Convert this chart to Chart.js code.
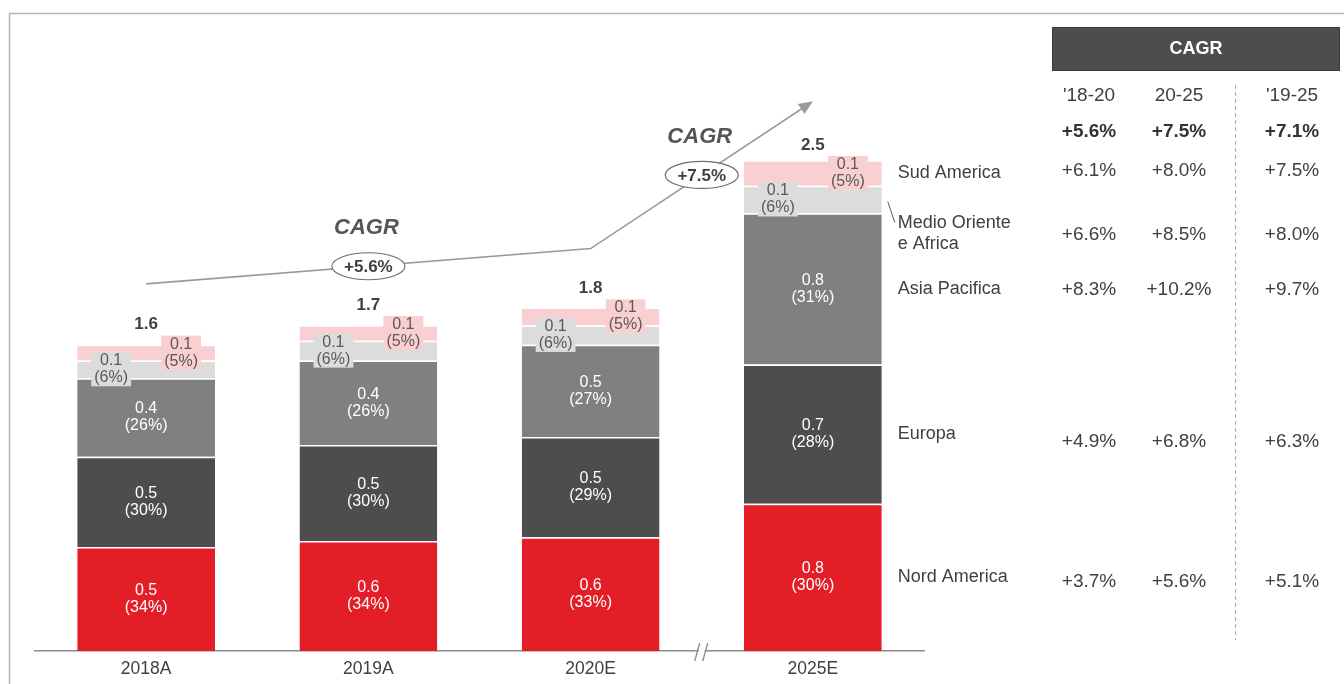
<!DOCTYPE html>
<html><head><meta charset="utf-8">
<script src="https://cdn.jsdelivr.net/npm/chart.js@4.4.0/dist/chart.umd.min.js"></script>
<style>html,body{margin:0;padding:0;background:#fff;}#wrap{width:1344px;height:684px;}</style>
</head><body><div id="wrap"><canvas id="c" width="1344" height="684"></canvas></div>
<script>
const categories = ['2018A', '2019A', '2020E', '2025E'];
const regionNames = ['Nord America', 'Europa', 'Asia Pacifica', 'Medio Oriente e Africa', 'Sud America'];
const nordAmerica = [0.53, 0.56, 0.58, 0.75];
const europa = [0.46, 0.49, 0.51, 0.71];
const asiaPacifica = [0.40, 0.43, 0.47, 0.77];
const medioOriente = [0.09, 0.10, 0.10, 0.14];
const sudAmerica = [0.08, 0.08, 0.09, 0.13];
const pctNordAmerica = [34, 34, 33, 30];
const pctEuropa = [30, 30, 29, 28];
const pctAsiaPacifica = [26, 26, 27, 31];
const pctMedioOriente = [6, 6, 6, 6];
const pctSudAmerica = [5, 5, 5, 5];
const cagrPeriods = ["'18-20", '20-25', "'19-25"];
const cagrTotal = ['+5.6%', '+7.5%', '+7.1%'];
const cagrSudAmerica = ['+6.1%', '+8.0%', '+7.5%'];
const cagrMedioOriente = ['+6.6%', '+8.5%', '+8.0%'];
const cagrAsiaPacifica = ['+8.3%', '+10.2%', '+9.7%'];
const cagrEuropa = ['+4.9%', '+6.8%', '+6.3%'];
const cagrNordAmerica = ['+3.7%', '+5.6%', '+5.1%'];
const arrowCategories = ['2018A', '2020E', '2025E'];
const arrowLevels = [1.87, 2.05, 2.80];
const arrowCagr = ['+5.6%', '+7.5%'];

const FONT = '"Liberation Sans", Arial, sans-serif';
const colors = ['#E41E26', '#4D4D4D', '#808080', '#DCDCDC', '#F9CFD1'];
const seriesValues = [nordAmerica, europa, asiaPacifica, medioOriente, sudAmerica];
const seriesPct = [pctNordAmerica, pctEuropa, pctAsiaPacifica, pctMedioOriente, pctSudAmerica];

function fmt(v) { return (Math.round(v * 10 + 1e-9) / 10).toFixed(1); }

const overlay = {
  id: 'overlay',
  afterDatasetsDraw(chart) {
    const ctx = chart.ctx;
    ctx.save();
    ctx.textAlign = 'center';
    ctx.textBaseline = 'middle';
    for (let d = 0; d < 5; d++) {
      const meta = chart.getDatasetMeta(d);
      meta.data.forEach((bar, i) => {
        const p = bar.getProps(['x', 'y', 'base'], true);
        const cy = (p.y + p.base) / 2;
        const v = fmt(seriesValues[d][i]);
        const pc = '(' + seriesPct[d][i] + '%)';
        ctx.font = '16px ' + FONT;
        if (d < 3) {
          ctx.fillStyle = '#FFFFFF';
          ctx.fillText(v, p.x, cy - 8.5);
          ctx.fillText(pc, p.x, cy + 8.5);
        } else {
          const lx = p.x + (d === 3 ? -35 : 35);
          const w = Math.max(ctx.measureText(v).width, ctx.measureText(pc).width) + 6;
          ctx.fillStyle = colors[d];
          ctx.fillRect(lx - w / 2, cy - 17, w, 34);
          ctx.fillStyle = '#595959';
          ctx.fillText(v, lx, cy - 8.5);
          ctx.fillText(pc, lx, cy + 8.5);
        }
      });
    }
    const topMeta = chart.getDatasetMeta(4);
    topMeta.data.forEach((bar, i) => {
      const p = bar.getProps(['x', 'y', 'base'], true);
      const cy = (p.y + p.base) / 2;
      let tot = 0;
      for (let d = 0; d < 5; d++) tot += seriesValues[d][i];
      ctx.font = 'bold 17px ' + FONT;
      ctx.fillStyle = '#404040';
      ctx.fillText(fmt(tot), p.x, cy - 28);
    });
    ctx.restore();
  },
  afterDraw(chart) {
    const ctx = chart.ctx;
    const xs = chart.scales.x, ys = chart.scales.y;
    ctx.save();
    ctx.strokeStyle = '#B4B4B4';
    ctx.lineWidth = 1.5;
    ctx.beginPath();
    ctx.moveTo(9.5, 684); ctx.lineTo(9.5, 13.5); ctx.lineTo(1344, 13.5);
    ctx.stroke();

    const bx = (xs.getPixelForValue(2) + xs.getPixelForValue(3)) / 2;
    const by = chart.chartArea.bottom;
    ctx.fillStyle = '#fff';
    ctx.fillRect(bx - 3, by - 3, 6, 6);
    ctx.strokeStyle = '#8C8C8C';
    ctx.lineWidth = 1.3;
    ctx.beginPath();
    ctx.moveTo(bx - 7, by + 10); ctx.lineTo(bx - 2, by - 8);
    ctx.moveTo(bx + 1, by + 10); ctx.lineTo(bx + 6, by - 8);
    ctx.stroke();

    const pts = arrowCategories.map((c, k) => ({
      x: xs.getPixelForValue(categories.indexOf(c)),
      y: ys.getPixelForValue(arrowLevels[k])
    }));
    ctx.strokeStyle = '#9A9A9A';
    ctx.fillStyle = '#9A9A9A';
    ctx.lineWidth = 1.6;
    const last = pts[pts.length - 1], prev = pts[pts.length - 2];
    const ang = Math.atan2(last.y - prev.y, last.x - prev.x);
    const tipBack = 12;
    ctx.beginPath();
    ctx.moveTo(pts[0].x, pts[0].y);
    ctx.lineTo(pts[1].x, pts[1].y);
    ctx.lineTo(last.x - tipBack * Math.cos(ang), last.y - tipBack * Math.sin(ang));
    ctx.stroke();
    ctx.beginPath();
    ctx.moveTo(last.x, last.y);
    ctx.lineTo(last.x - 14 * Math.cos(ang) + 6 * Math.sin(ang), last.y - 14 * Math.sin(ang) - 6 * Math.cos(ang));
    ctx.lineTo(last.x - 14 * Math.cos(ang) - 6 * Math.sin(ang), last.y - 14 * Math.sin(ang) + 6 * Math.cos(ang));
    ctx.closePath();
    ctx.fill();
    for (let k = 0; k < 2; k++) {
      const mx = (pts[k].x + pts[k + 1].x) / 2;
      const my = (pts[k].y + pts[k + 1].y) / 2;
      ctx.beginPath();
      ctx.ellipse(mx, my, 36.5, 13.5, 0, 0, Math.PI * 2);
      ctx.fillStyle = '#fff';
      ctx.fill();
      ctx.strokeStyle = '#6E6E6E';
      ctx.lineWidth = 1.2;
      ctx.stroke();
      ctx.textAlign = 'center';
      ctx.textBaseline = 'middle';
      ctx.fillStyle = '#404040';
      ctx.font = 'bold 17px ' + FONT;
      ctx.fillText(arrowCagr[k], mx, my + 1);
      ctx.fillStyle = '#555555';
      ctx.font = 'italic bold 22px ' + FONT;
      ctx.fillText('CAGR', mx - 2, my - 38);
    }

    const li = 3;
    const cyOf = d => {
      const p = chart.getDatasetMeta(d).data[li].getProps(['x', 'y', 'base', 'width'], true);
      return { cy: (p.y + p.base) / 2, right: p.x + p.width / 2 };
    };
    ctx.textAlign = 'left';
    ctx.fillStyle = '#404040';
    ctx.font = '18px ' + FONT;
    const lx = cyOf(0).right + 16;
    [0, 1, 2, 4].forEach(d => {
      ctx.fillText(regionNames[d], lx, cyOf(d).cy);
    });
    const mea = cyOf(3);
    ctx.fillText('Medio Oriente', lx, mea.cy + 24);
    ctx.fillText('e Africa', lx, mea.cy + 45);
    ctx.strokeStyle = '#595959';
    ctx.lineWidth = 1;
    ctx.beginPath();
    ctx.moveTo(mea.right + 6, mea.cy + 2);
    ctx.lineTo(mea.right + 13, mea.cy + 23);
    ctx.stroke();

    ctx.fillStyle = '#4D4D4D';
    ctx.fillRect(1052, 27, 288, 44);
    ctx.strokeStyle = '#3A3A3A';
    ctx.lineWidth = 1;
    ctx.strokeRect(1052.5, 27.5, 287, 43);
    ctx.fillStyle = '#FFFFFF';
    ctx.textAlign = 'center';
    ctx.font = 'bold 18px ' + FONT;
    ctx.fillText('CAGR', 1196, 49);
    const colX = [1089, 1179, 1292];
    ctx.font = '19px ' + FONT;
    ctx.fillStyle = '#404040';
    cagrPeriods.forEach((t, k) => ctx.fillText(t, colX[k], 96));
    ctx.font = 'bold 19px ' + FONT;
    ctx.fillStyle = '#333333';
    cagrTotal.forEach((t, k) => ctx.fillText(t, colX[k], 132));
    ctx.font = '19px ' + FONT;
    ctx.fillStyle = '#404040';
    const rows = [[cagrSudAmerica, 171], [cagrMedioOriente, 235], [cagrAsiaPacifica, 290], [cagrEuropa, 442], [cagrNordAmerica, 582]];
    rows.forEach(([arr, y]) => arr.forEach((t, k) => ctx.fillText(t, colX[k], y)));
    ctx.strokeStyle = '#AAAAAA';
    ctx.lineWidth = 1;
    ctx.setLineDash([4, 3]);
    ctx.beginPath();
    ctx.moveTo(1235.5, 85); ctx.lineTo(1235.5, 640);
    ctx.stroke();
    ctx.setLineDash([]);
    ctx.restore();
  }
};

new Chart(document.getElementById('c'), {
  type: 'bar',
  data: {
    labels: categories,
    datasets: seriesValues.map((vals, d) => ({
      label: regionNames[d],
      data: vals,
      backgroundColor: colors[d],
      borderColor: '#FFFFFF',
      borderWidth: { top: 1.5, right: 0, bottom: 0, left: 0 },
      borderSkipped: false,
      barPercentage: 0.62,
      categoryPercentage: 1
    }))
  },
  options: {
    responsive: false,
    animation: false,
    devicePixelRatio: 1,
    layout: { padding: { left: 35, right: 420, top: 13, bottom: 3 } },
    plugins: { legend: { display: false }, tooltip: { enabled: false } },
    scales: {
      x: {
        stacked: true,
        grid: { display: false, drawTicks: false },
        border: { display: true, color: '#8C8C8C', width: 1.5 },
        ticks: { color: '#404040', font: { family: FONT, size: 17.5 }, padding: 8 },
        afterFit: (scale) => { scale.height = 30; }
      },
      y: { stacked: true, display: false, min: 0, max: 3.25 }
    }
  },
  plugins: [overlay]
});
</script></body></html>
